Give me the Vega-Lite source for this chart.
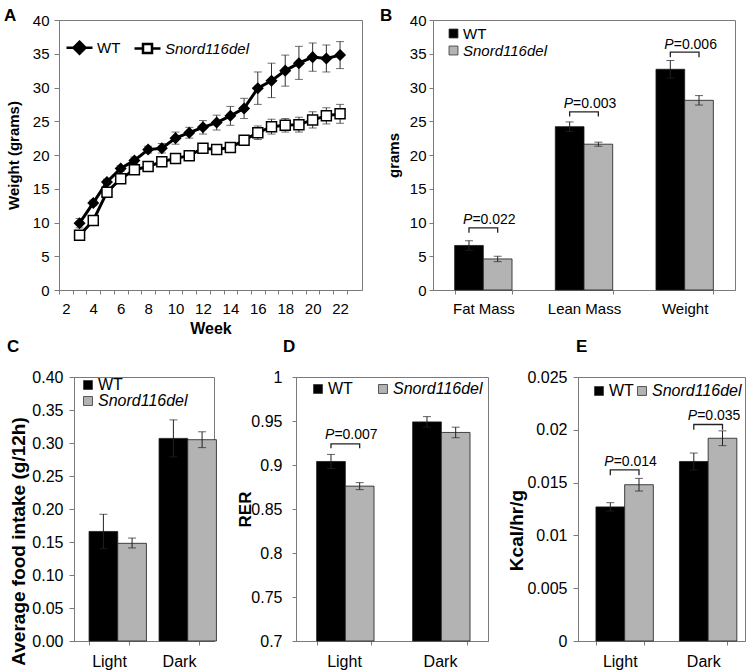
{
  "$schema": "https://vega.github.io/schema/vega-lite/v6.json",
  "background": "white",
  "padding": {"left": -14, "top": 6, "right": 0, "bottom": 0},
  "config": {
    "font": "Liberation Sans",
    "view": {"stroke": "#7a7a7a", "strokeWidth": 1},
    "axis": {"grid": false, "labelOverlap": false, "domainColor": "#7a7a7a", "tickColor": "#7a7a7a", "labelColor": "#000000", "titleColor": "#000000", "titleFontWeight": "bold", "labelFontSize": 15, "titleFontSize": 15, "tickSize": 5, "labelFont": "Liberation Sans", "titleFont": "Liberation Sans"},
    "legend": {"labelFont": "Liberation Sans", "labelColor": "#000000", "padding": 0},
    "title": {"font": "Liberation Sans", "fontSize": 17, "fontWeight": "bold", "color": "#000000", "anchor": "start", "frame": "group", "baseline": "alphabetic"}
  },
  "datasets": {
    "growth": [
      {"week": 3, "group": "WT", "mean": 9.9, "lo": 9.2, "hi": 10.6},
      {"week": 4, "group": "WT", "mean": 12.9, "lo": 12.5, "hi": 13.3},
      {"week": 5, "group": "WT", "mean": 16.0, "lo": 15.6, "hi": 16.4},
      {"week": 6, "group": "WT", "mean": 18.0, "lo": 17.6, "hi": 18.4},
      {"week": 7, "group": "WT", "mean": 19.2, "lo": 18.7, "hi": 19.7},
      {"week": 8, "group": "WT", "mean": 20.8, "lo": 20.3, "hi": 21.3},
      {"week": 9, "group": "WT", "mean": 21.0, "lo": 20.3, "hi": 21.7},
      {"week": 10, "group": "WT", "mean": 22.5, "lo": 21.6, "hi": 23.4},
      {"week": 11, "group": "WT", "mean": 23.3, "lo": 22.5, "hi": 24.1},
      {"week": 12, "group": "WT", "mean": 24.1, "lo": 23.1, "hi": 25.1},
      {"week": 13, "group": "WT", "mean": 24.8, "lo": 23.7, "hi": 25.9},
      {"week": 14, "group": "WT", "mean": 25.8, "lo": 24.4, "hi": 27.2},
      {"week": 15, "group": "WT", "mean": 26.9, "lo": 25.4, "hi": 28.4},
      {"week": 16, "group": "WT", "mean": 29.9, "lo": 27.5, "hi": 32.3},
      {"week": 17, "group": "WT", "mean": 31.0, "lo": 28.5, "hi": 33.6},
      {"week": 18, "group": "WT", "mean": 32.5, "lo": 30.2, "hi": 34.8},
      {"week": 19, "group": "WT", "mean": 33.6, "lo": 31.2, "hi": 36.1},
      {"week": 20, "group": "WT", "mean": 34.5, "lo": 32.4, "hi": 36.6},
      {"week": 21, "group": "WT", "mean": 34.3, "lo": 32.3, "hi": 36.3},
      {"week": 22, "group": "WT", "mean": 34.8, "lo": 32.8, "hi": 36.8},
      {"week": 3, "group": "Snord116del", "mean": 8.1, "lo": 7.6, "hi": 8.6},
      {"week": 4, "group": "Snord116del", "mean": 10.3, "lo": 9.9, "hi": 10.7},
      {"week": 5, "group": "Snord116del", "mean": 14.5, "lo": 14.1, "hi": 14.9},
      {"week": 6, "group": "Snord116del", "mean": 16.5, "lo": 16.1, "hi": 16.9},
      {"week": 7, "group": "Snord116del", "mean": 17.8, "lo": 17.4, "hi": 18.2},
      {"week": 8, "group": "Snord116del", "mean": 18.3, "lo": 17.9, "hi": 18.7},
      {"week": 9, "group": "Snord116del", "mean": 19.0, "lo": 18.6, "hi": 19.4},
      {"week": 10, "group": "Snord116del", "mean": 19.5, "lo": 19.1, "hi": 19.9},
      {"week": 11, "group": "Snord116del", "mean": 19.9, "lo": 19.5, "hi": 20.3},
      {"week": 12, "group": "Snord116del", "mean": 21.0, "lo": 20.5, "hi": 21.5},
      {"week": 13, "group": "Snord116del", "mean": 20.8, "lo": 20.4, "hi": 21.2},
      {"week": 14, "group": "Snord116del", "mean": 21.1, "lo": 20.7, "hi": 21.5},
      {"week": 15, "group": "Snord116del", "mean": 22.2, "lo": 21.6, "hi": 22.8},
      {"week": 16, "group": "Snord116del", "mean": 23.3, "lo": 22.3, "hi": 24.3},
      {"week": 17, "group": "Snord116del", "mean": 24.2, "lo": 23.1, "hi": 25.3},
      {"week": 18, "group": "Snord116del", "mean": 24.4, "lo": 23.4, "hi": 25.4},
      {"week": 19, "group": "Snord116del", "mean": 24.5, "lo": 23.4, "hi": 25.6},
      {"week": 20, "group": "Snord116del", "mean": 25.2, "lo": 24.0, "hi": 26.4},
      {"week": 21, "group": "Snord116del", "mean": 25.8, "lo": 24.6, "hi": 27.0},
      {"week": 22, "group": "Snord116del", "mean": 26.1, "lo": 24.7, "hi": 27.5}
    ],
    "bars": [
      {"panel": "B", "cat": "Fat Mass", "group": "WT", "mean": 6.6, "lo": 5.9, "hi": 7.3},
      {"panel": "B", "cat": "Fat Mass", "group": "Snord116del", "mean": 4.6, "lo": 4.2, "hi": 5.0},
      {"panel": "B", "cat": "Lean Mass", "group": "WT", "mean": 24.2, "lo": 23.5, "hi": 24.9},
      {"panel": "B", "cat": "Lean Mass", "group": "Snord116del", "mean": 21.6, "lo": 21.3, "hi": 21.9},
      {"panel": "B", "cat": "Weight", "group": "WT", "mean": 32.7, "lo": 31.4, "hi": 34.0},
      {"panel": "B", "cat": "Weight", "group": "Snord116del", "mean": 28.1, "lo": 27.4, "hi": 28.8},
      {"panel": "C", "cat": "Light", "group": "WT", "mean": 0.166, "lo": 0.140, "hi": 0.192},
      {"panel": "C", "cat": "Light", "group": "Snord116del", "mean": 0.148, "lo": 0.141, "hi": 0.156},
      {"panel": "C", "cat": "Dark", "group": "WT", "mean": 0.307, "lo": 0.279, "hi": 0.335},
      {"panel": "C", "cat": "Dark", "group": "Snord116del", "mean": 0.305, "lo": 0.293, "hi": 0.317},
      {"panel": "D", "cat": "Light", "group": "WT", "mean": 0.904, "lo": 0.896, "hi": 0.912},
      {"panel": "D", "cat": "Light", "group": "Snord116del", "mean": 0.876, "lo": 0.872, "hi": 0.880},
      {"panel": "D", "cat": "Dark", "group": "WT", "mean": 0.949, "lo": 0.943, "hi": 0.955},
      {"panel": "D", "cat": "Dark", "group": "Snord116del", "mean": 0.937, "lo": 0.931, "hi": 0.943},
      {"panel": "E", "cat": "Light", "group": "WT", "mean": 0.0127, "lo": 0.0123, "hi": 0.0131},
      {"panel": "E", "cat": "Light", "group": "Snord116del", "mean": 0.0148, "lo": 0.0142, "hi": 0.0154},
      {"panel": "E", "cat": "Dark", "group": "WT", "mean": 0.0170, "lo": 0.0162, "hi": 0.0178},
      {"panel": "E", "cat": "Dark", "group": "Snord116del", "mean": 0.0192, "lo": 0.0185, "hi": 0.0199}
    ],
    "brackets": [
      {"panel": "B", "id": "B1", "cat": "Fat Mass", "group": "WT", "y": 8.5, "ord": 1},
      {"panel": "B", "id": "B1", "cat": "Fat Mass", "group": "WT", "y": 9.2, "ord": 2},
      {"panel": "B", "id": "B1", "cat": "Fat Mass", "group": "Snord116del", "y": 9.2, "ord": 3},
      {"panel": "B", "id": "B1", "cat": "Fat Mass", "group": "Snord116del", "y": 8.5, "ord": 4},
      {"panel": "B", "id": "B2", "cat": "Lean Mass", "group": "WT", "y": 25.7, "ord": 1},
      {"panel": "B", "id": "B2", "cat": "Lean Mass", "group": "WT", "y": 26.4, "ord": 2},
      {"panel": "B", "id": "B2", "cat": "Lean Mass", "group": "Snord116del", "y": 26.4, "ord": 3},
      {"panel": "B", "id": "B2", "cat": "Lean Mass", "group": "Snord116del", "y": 25.7, "ord": 4},
      {"panel": "B", "id": "B3", "cat": "Weight", "group": "WT", "y": 34.5, "ord": 1},
      {"panel": "B", "id": "B3", "cat": "Weight", "group": "WT", "y": 35.25, "ord": 2},
      {"panel": "B", "id": "B3", "cat": "Weight", "group": "Snord116del", "y": 35.25, "ord": 3},
      {"panel": "B", "id": "B3", "cat": "Weight", "group": "Snord116del", "y": 34.5, "ord": 4},
      {"panel": "D", "id": "D1", "cat": "Light", "group": "WT", "y": 0.919, "ord": 1},
      {"panel": "D", "id": "D1", "cat": "Light", "group": "WT", "y": 0.924, "ord": 2},
      {"panel": "D", "id": "D1", "cat": "Light", "group": "Snord116del", "y": 0.924, "ord": 3},
      {"panel": "D", "id": "D1", "cat": "Light", "group": "Snord116del", "y": 0.919, "ord": 4},
      {"panel": "E", "id": "E1", "cat": "Light", "group": "WT", "y": 0.0157, "ord": 1},
      {"panel": "E", "id": "E1", "cat": "Light", "group": "WT", "y": 0.0162, "ord": 2},
      {"panel": "E", "id": "E1", "cat": "Light", "group": "Snord116del", "y": 0.0162, "ord": 3},
      {"panel": "E", "id": "E1", "cat": "Light", "group": "Snord116del", "y": 0.0157, "ord": 4},
      {"panel": "E", "id": "E2", "cat": "Dark", "group": "WT", "y": 0.0200, "ord": 1},
      {"panel": "E", "id": "E2", "cat": "Dark", "group": "WT", "y": 0.0205, "ord": 2},
      {"panel": "E", "id": "E2", "cat": "Dark", "group": "Snord116del", "y": 0.0205, "ord": 3},
      {"panel": "E", "id": "E2", "cat": "Dark", "group": "Snord116del", "y": 0.0200, "ord": 4}
    ],
    "ptext": [
      {"panel": "B", "cat": "Fat Mass", "group": "WT", "y": 9.75, "p": "=0.022"},
      {"panel": "B", "cat": "Lean Mass", "group": "WT", "y": 27.0, "p": "=0.003"},
      {"panel": "B", "cat": "Weight", "group": "WT", "y": 35.65, "p": "=0.006"},
      {"panel": "D", "cat": "Light", "group": "WT", "y": 0.929, "p": "=0.007"},
      {"panel": "E", "cat": "Light", "group": "WT", "y": 0.01657, "p": "=0.014"},
      {"panel": "E", "cat": "Dark", "group": "WT", "y": 0.0209, "p": "=0.035"}
    ]
  },
  "resolve": {"scale": {"fill": "independent", "shape": "independent"}, "legend": {"fill": "independent", "shape": "independent"}},
  "columns": 1,
  "align": "none",
  "spacing": 0,
  "concat": [
    {
      "spacing": 16,
      "resolve": {"scale": {"fill": "independent", "shape": "independent"}, "legend": {"fill": "independent", "shape": "independent"}},
      "hconcat": [
        {"width": 1, "height": 1, "view": {"stroke": null}, "data": {"values": []}, "mark": "point"},
        {
          "width": 303, "height": 270,
          "title": {"text": "A", "dx": -55, "offset": -11.5},
          "data": {"name": "growth"},
          "encoding": {
            "x": {"field": "week", "type": "quantitative", "title": "Week",
              "scale": {"domain": [1.5, 23.6], "nice": false, "zero": false},
              "axis": {"values": [2,3,4,5,6,7,8,9,10,11,12,13,14,15,16,17,18,19,20,21,22,23], "labelExpr": "datum.value % 2 == 0 && datum.value <= 22 ? datum.label : ''", "tickOffset": -6.86, "labelOffset": 6.86, "tickSize": 4, "labelPadding": 7, "titleFontSize": 16, "titlePadding": 4}}
          },
          "layer": [
            {"mark": {"type": "rule", "color": "#333333", "strokeWidth": 1},
             "encoding": {"y": {"field": "lo", "type": "quantitative", "title": "Weight (grams)", "scale": {"domain": [0, 40], "nice": false},
                "axis": {"values": [0,5,10,15,20,25,30,35,40], "tickSize": 5, "labelPadding": 5, "minExtent": 29, "maxExtent": 29, "titlePadding": 9}},
              "y2": {"field": "hi"}}},
            {"mark": {"type": "tick", "orient": "horizontal", "size": 8, "thickness": 1, "color": "#333333"},
             "encoding": {"y": {"field": "lo", "type": "quantitative", "title": "Weight (grams)", "axis": {"values": [0,5,10,15,20,25,30,35,40], "tickSize": 5, "labelPadding": 5, "minExtent": 29, "maxExtent": 29, "titlePadding": 9}}}},
            {"mark": {"type": "tick", "orient": "horizontal", "size": 8, "thickness": 1, "color": "#333333"},
             "encoding": {"y": {"field": "hi", "type": "quantitative", "title": "Weight (grams)", "axis": {"values": [0,5,10,15,20,25,30,35,40], "tickSize": 5, "labelPadding": 5, "minExtent": 29, "maxExtent": 29, "titlePadding": 9}}}},
            {"mark": {"type": "line", "color": "#000000", "strokeWidth": 3},
             "encoding": {"y": {"field": "mean", "type": "quantitative", "title": "Weight (grams)", "axis": {"values": [0,5,10,15,20,25,30,35,40], "tickSize": 5, "labelPadding": 5, "minExtent": 29, "maxExtent": 29, "titlePadding": 9}}, "detail": {"field": "group"}}},
            {"transform": [{"filter": "datum.group == 'WT'"}],
             "mark": {"type": "point", "shape": "diamond", "filled": true, "fill": "#000000", "stroke": "#000000", "size": 85, "opacity": 1},
             "encoding": {"y": {"field": "mean", "type": "quantitative", "title": "Weight (grams)", "axis": {"values": [0,5,10,15,20,25,30,35,40], "tickSize": 5, "labelPadding": 5, "minExtent": 29, "maxExtent": 29, "titlePadding": 9}}}},
            {"transform": [{"filter": "datum.group != 'WT'"}],
             "mark": {"type": "point", "shape": "square", "filled": true, "fill": "#ffffff", "stroke": "#000000", "strokeWidth": 1.5, "size": 100, "opacity": 1},
             "encoding": {"y": {"field": "mean", "type": "quantitative", "title": "Weight (grams)", "axis": {"values": [0,5,10,15,20,25,30,35,40], "tickSize": 5, "labelPadding": 5, "minExtent": 29, "maxExtent": 29, "titlePadding": 9}}}},
            {"mark": {"type": "point", "filled": true, "opacity": 0},
             "encoding": {
               "y": {"field": "mean", "type": "quantitative", "title": "Weight (grams)", "axis": {"values": [0,5,10,15,20,25,30,35,40], "tickSize": 5, "labelPadding": 5, "minExtent": 29, "maxExtent": 29, "titlePadding": 9}},
               "shape": {"field": "group", "type": "nominal", "scale": {"domain": ["WT", "Snord116del"], "range": ["M-1.3,0H1.3M0,-0.6L0.6,0L0,0.6L-0.6,0Z", "M-1.3,0H-0.45M0.45,0H1.3M-0.45,-0.45H0.45V0.45H-0.45Z"]},
                 "legend": {"title": null, "orient": "none", "legendX": 9, "legendY": 16, "direction": "horizontal", "symbolSize": 400, "symbolStrokeColor": "#000000", "symbolStrokeWidth": 2.5, "symbolOpacity": 1, "labelFontSize": 15, "labelOffset": 6, "columnPadding": 8,
                   "encode": {"symbols": {"update": {"opacity": {"value": 1}, "stroke": {"value": "#000000"}}}, "labels": {"update": {"fontStyle": {"signal": "datum.label == 'WT' ? 'normal' : 'italic'"}}}}}},
               "fill": {"field": "group", "type": "nominal", "scale": {"domain": ["WT", "Snord116del"], "range": ["#000000", "#ffffff"]},
                 "legend": {"title": null, "orient": "none", "legendX": 9, "legendY": 16, "direction": "horizontal", "symbolSize": 400, "symbolStrokeColor": "#000000", "symbolStrokeWidth": 2.5, "symbolOpacity": 1, "labelFontSize": 15, "labelOffset": 6, "columnPadding": 8,
                   "encode": {"symbols": {"update": {"opacity": {"value": 1}, "stroke": {"value": "#000000"}}}, "labels": {"update": {"fontStyle": {"signal": "datum.label == 'WT' ? 'normal' : 'italic'"}}}}}}
             }}
          ]
        },
        {
          "width": 302, "height": 270,
          "title": {"text": "B", "dx": -53, "offset": -11.5},
          "encoding": {
            "x": {"field": "cat", "type": "nominal", "title": null,
              "scale": {"domain": ["Fat Mass", "Lean Mass", "Weight"], "paddingInner": 0.43, "paddingOuter": 0.215},
              "axis": {"labelAngle": 0, "tickBand": "extent", "tickSize": 4, "labelPadding": 7}},
            "xOffset": {"field": "group", "type": "nominal", "scale": {"domain": ["WT", "Snord116del"], "paddingInner": 0, "paddingOuter": 0}}
          },
          "layer": [
            {"data": {"name": "bars"}, "transform": [{"filter": "datum.panel == 'B'"}],
             "mark": {"type": "bar", "stroke": "#1a1a1a", "strokeWidth": 0.8},
             "encoding": {
               "y": {"field": "mean", "type": "quantitative", "title": "grams", "scale": {"domain": [0, 40], "nice": false},
                 "axis": {"values": [0,5,10,15,20,25,30,35,40], "tickSize": 4, "labelPadding": 3, "minExtent": 23, "maxExtent": 23, "titlePadding": 9}},
               "fill": {"field": "group", "type": "nominal", "scale": {"domain": ["WT", "Snord116del"], "range": ["#000000", "#b3b3b3"]},
                 "legend": {"title": null, "orient": "none", "legendX": 13, "legendY": 6, "direction": "vertical", "symbolType": "square", "symbolSize": 80, "symbolStrokeColor": "#333333", "symbolStrokeWidth": 0.8, "labelFontSize": 15, "labelOffset": 2, "rowPadding": 1,
                   "encode": {"labels": {"update": {"fontStyle": {"signal": "datum.label == 'WT' ? 'normal' : 'italic'"}}}}}}
             }},
            {"data": {"name": "bars"}, "transform": [{"filter": "datum.panel == 'B'"}],
             "mark": {"type": "rule", "color": "#222222", "strokeWidth": 1},
             "encoding": {"y": {"field": "lo", "type": "quantitative", "title": "grams", "axis": {"values": [0,5,10,15,20,25,30,35,40], "tickSize": 4, "labelPadding": 3, "minExtent": 23, "maxExtent": 23, "titlePadding": 9}}, "y2": {"field": "hi"}}},
            {"data": {"name": "bars"}, "transform": [{"filter": "datum.panel == 'B'"}],
             "mark": {"type": "tick", "orient": "horizontal", "size": 8, "thickness": 1, "color": "#222222"},
             "encoding": {"y": {"field": "lo", "type": "quantitative", "title": "grams", "axis": {"values": [0,5,10,15,20,25,30,35,40], "tickSize": 4, "labelPadding": 3, "minExtent": 23, "maxExtent": 23, "titlePadding": 9}}}},
            {"data": {"name": "bars"}, "transform": [{"filter": "datum.panel == 'B'"}],
             "mark": {"type": "tick", "orient": "horizontal", "size": 8, "thickness": 1, "color": "#222222"},
             "encoding": {"y": {"field": "hi", "type": "quantitative", "title": "grams", "axis": {"values": [0,5,10,15,20,25,30,35,40], "tickSize": 4, "labelPadding": 3, "minExtent": 23, "maxExtent": 23, "titlePadding": 9}}}},
            {"data": {"name": "brackets"}, "transform": [{"filter": "datum.panel == 'B'"}],
             "mark": {"type": "line", "color": "#222222", "strokeWidth": 1.3},
             "encoding": {"y": {"field": "y", "type": "quantitative", "title": "grams", "axis": {"values": [0,5,10,15,20,25,30,35,40], "tickSize": 4, "labelPadding": 3, "minExtent": 23, "maxExtent": 23, "titlePadding": 9}}, "order": {"field": "ord"}, "detail": {"field": "id"}}},
            {"data": {"name": "ptext"}, "transform": [{"filter": "datum.panel == 'B'"}],
             "mark": {"type": "text", "text": "P", "fontStyle": "italic", "fontSize": 14, "align": "left", "baseline": "alphabetic", "dx": -6, "color": "#000000"},
             "encoding": {"y": {"field": "y", "type": "quantitative", "title": "grams", "axis": {"values": [0,5,10,15,20,25,30,35,40], "tickSize": 4, "labelPadding": 3, "minExtent": 23, "maxExtent": 23, "titlePadding": 9}}}},
            {"data": {"name": "ptext"}, "transform": [{"filter": "datum.panel == 'B'"}],
             "mark": {"type": "text", "fontSize": 14, "align": "left", "baseline": "alphabetic", "dx": 3.4, "color": "#000000"},
             "encoding": {"y": {"field": "y", "type": "quantitative", "title": "grams", "axis": {"values": [0,5,10,15,20,25,30,35,40], "tickSize": 4, "labelPadding": 3, "minExtent": 23, "maxExtent": 23, "titlePadding": 9}}, "text": {"field": "p"}}}
          ]
        }
      ]
    },
    {
      "spacing": 17,
      "resolve": {"scale": {"fill": "independent", "shape": "independent"}, "legend": {"fill": "independent", "shape": "independent"}},
      "hconcat": [
        {"width": 3, "height": 1, "view": {"stroke": null}, "data": {"values": []}, "mark": "point"},
        {
          "width": 140, "height": 264,
          "title": {"text": "C", "dx": -67, "offset": 13},
          "encoding": {
            "x": {"field": "cat", "type": "nominal", "title": null,
              "scale": {"domain": ["Light", "Dark"], "paddingInner": 0.43, "paddingOuter": 0.215},
              "axis": {"labelAngle": 0, "tickBand": "extent", "tickSize": 4, "labelPadding": 8, "labelFontSize": 16}},
            "xOffset": {"field": "group", "type": "nominal", "scale": {"domain": ["WT", "Snord116del"], "paddingInner": 0, "paddingOuter": 0}}
          },
          "layer": [
            {"data": {"name": "bars"}, "transform": [{"filter": "datum.panel == 'C'"}],
             "mark": {"type": "bar", "stroke": "#1a1a1a", "strokeWidth": 0.8},
             "encoding": {
               "y": {"field": "mean", "type": "quantitative", "title": "Average food intake (g/12h)", "scale": {"domain": [0, 0.4], "nice": false},
                 "axis": {"values": [0,0.05,0.1,0.15,0.2,0.25,0.3,0.35,0.4], "format": ".2f", "labelFontSize": 16, "titleFontSize": 19, "titleY": 164, "tickSize": 5, "labelPadding": 6, "minExtent": 45, "maxExtent": 45, "titlePadding": 1}},
               "fill": {"field": "group", "type": "nominal", "scale": {"domain": ["WT", "Snord116del"], "range": ["#000000", "#b3b3b3"]},
                 "legend": {"title": null, "orient": "none", "legendX": 6, "legendY": 0, "direction": "vertical", "symbolType": "square", "symbolSize": 80, "symbolStrokeColor": "#333333", "symbolStrokeWidth": 0.8, "labelFontSize": 16, "labelOffset": 2, "rowPadding": 0,
                   "encode": {"labels": {"update": {"fontStyle": {"signal": "datum.label == 'WT' ? 'normal' : 'italic'"}}}}}}
             }},
            {"data": {"name": "bars"}, "transform": [{"filter": "datum.panel == 'C'"}],
             "mark": {"type": "rule", "color": "#222222", "strokeWidth": 1},
             "encoding": {"y": {"field": "lo", "type": "quantitative", "title": "Average food intake (g/12h)", "axis": {"values": [0,0.05,0.1,0.15,0.2,0.25,0.3,0.35,0.4], "format": ".2f", "labelFontSize": 16, "titleFontSize": 19, "titleY": 164, "tickSize": 5, "labelPadding": 6, "minExtent": 45, "maxExtent": 45, "titlePadding": 1}}, "y2": {"field": "hi"}}},
            {"data": {"name": "bars"}, "transform": [{"filter": "datum.panel == 'C'"}],
             "mark": {"type": "tick", "orient": "horizontal", "size": 8, "thickness": 1, "color": "#222222"},
             "encoding": {"y": {"field": "lo", "type": "quantitative", "title": "Average food intake (g/12h)", "axis": {"values": [0,0.05,0.1,0.15,0.2,0.25,0.3,0.35,0.4], "format": ".2f", "labelFontSize": 16, "titleFontSize": 19, "titleY": 164, "tickSize": 5, "labelPadding": 6, "minExtent": 45, "maxExtent": 45, "titlePadding": 1}}}},
            {"data": {"name": "bars"}, "transform": [{"filter": "datum.panel == 'C'"}],
             "mark": {"type": "tick", "orient": "horizontal", "size": 8, "thickness": 1, "color": "#222222"},
             "encoding": {"y": {"field": "hi", "type": "quantitative", "title": "Average food intake (g/12h)", "axis": {"values": [0,0.05,0.1,0.15,0.2,0.25,0.3,0.35,0.4], "format": ".2f", "labelFontSize": 16, "titleFontSize": 19, "titleY": 164, "tickSize": 5, "labelPadding": 6, "minExtent": 45, "maxExtent": 45, "titlePadding": 1}}}}
          ]
        },
        {
          "width": 192, "height": 264,
          "title": {"text": "D", "dx": -13, "offset": 13},
          "encoding": {
            "x": {"field": "cat", "type": "nominal", "title": null,
              "scale": {"domain": ["Light", "Dark"], "paddingInner": 0.43, "paddingOuter": 0.215},
              "axis": {"labelAngle": 0, "tickBand": "extent", "tickSize": 4, "labelPadding": 8, "labelFontSize": 16}},
            "xOffset": {"field": "group", "type": "nominal", "scale": {"domain": ["WT", "Snord116del"], "paddingInner": 0, "paddingOuter": 0}}
          },
          "layer": [
            {"data": {"name": "bars"}, "transform": [{"filter": "datum.panel == 'D'"}],
             "mark": {"type": "bar", "stroke": "#1a1a1a", "strokeWidth": 0.8},
             "encoding": {
               "y": {"field": "mean", "type": "quantitative", "title": "RER", "scale": {"domain": [0.7, 1], "nice": false, "zero": false},
                 "axis": {"values": [0.7,0.75,0.8,0.85,0.9,0.95,1], "format": "~g", "labelFontSize": 16, "titleFontSize": 17, "tickSize": 4, "labelPadding": 10, "minExtent": 42, "maxExtent": 42, "titlePadding": 0}},
               "y2": {"datum": 0.7},
               "fill": {"field": "group", "type": "nominal", "scale": {"domain": ["WT", "Snord116del"], "range": ["#000000", "#b3b3b3"]},
                 "legend": {"title": null, "orient": "none", "legendX": 14, "legendY": 4, "direction": "horizontal", "symbolType": "square", "symbolSize": 80, "symbolStrokeColor": "#333333", "symbolStrokeWidth": 0.8, "labelFontSize": 16, "labelOffset": 2, "columnPadding": 22,
                   "encode": {"labels": {"update": {"fontStyle": {"signal": "datum.label == 'WT' ? 'normal' : 'italic'"}}}}}}
             }},
            {"data": {"name": "bars"}, "transform": [{"filter": "datum.panel == 'D'"}],
             "mark": {"type": "rule", "color": "#222222", "strokeWidth": 1},
             "encoding": {"y": {"field": "lo", "type": "quantitative", "title": "RER", "axis": {"values": [0.7,0.75,0.8,0.85,0.9,0.95,1], "format": "~g", "labelFontSize": 16, "titleFontSize": 17, "tickSize": 4, "labelPadding": 10, "minExtent": 42, "maxExtent": 42, "titlePadding": 0}}, "y2": {"field": "hi"}}},
            {"data": {"name": "bars"}, "transform": [{"filter": "datum.panel == 'D'"}],
             "mark": {"type": "tick", "orient": "horizontal", "size": 8, "thickness": 1, "color": "#222222"},
             "encoding": {"y": {"field": "lo", "type": "quantitative", "title": "RER", "axis": {"values": [0.7,0.75,0.8,0.85,0.9,0.95,1], "format": "~g", "labelFontSize": 16, "titleFontSize": 17, "tickSize": 4, "labelPadding": 10, "minExtent": 42, "maxExtent": 42, "titlePadding": 0}}}},
            {"data": {"name": "bars"}, "transform": [{"filter": "datum.panel == 'D'"}],
             "mark": {"type": "tick", "orient": "horizontal", "size": 8, "thickness": 1, "color": "#222222"},
             "encoding": {"y": {"field": "hi", "type": "quantitative", "title": "RER", "axis": {"values": [0.7,0.75,0.8,0.85,0.9,0.95,1], "format": "~g", "labelFontSize": 16, "titleFontSize": 17, "tickSize": 4, "labelPadding": 10, "minExtent": 42, "maxExtent": 42, "titlePadding": 0}}}},
            {"data": {"name": "brackets"}, "transform": [{"filter": "datum.panel == 'D'"}],
             "mark": {"type": "line", "color": "#222222", "strokeWidth": 1.3},
             "encoding": {"y": {"field": "y", "type": "quantitative", "title": "RER", "axis": {"values": [0.7,0.75,0.8,0.85,0.9,0.95,1], "format": "~g", "labelFontSize": 16, "titleFontSize": 17, "tickSize": 4, "labelPadding": 10, "minExtent": 42, "maxExtent": 42, "titlePadding": 0}}, "order": {"field": "ord"}, "detail": {"field": "id"}}},
            {"data": {"name": "ptext"}, "transform": [{"filter": "datum.panel == 'D'"}],
             "mark": {"type": "text", "text": "P", "fontStyle": "italic", "fontSize": 14, "align": "left", "baseline": "alphabetic", "dx": -6, "color": "#000000"},
             "encoding": {"y": {"field": "y", "type": "quantitative", "title": "RER", "axis": {"values": [0.7,0.75,0.8,0.85,0.9,0.95,1], "format": "~g", "labelFontSize": 16, "titleFontSize": 17, "tickSize": 4, "labelPadding": 10, "minExtent": 42, "maxExtent": 42, "titlePadding": 0}}}},
            {"data": {"name": "ptext"}, "transform": [{"filter": "datum.panel == 'D'"}],
             "mark": {"type": "text", "fontSize": 14, "align": "left", "baseline": "alphabetic", "dx": 3.4, "color": "#000000"},
             "encoding": {"y": {"field": "y", "type": "quantitative", "title": "RER", "axis": {"values": [0.7,0.75,0.8,0.85,0.9,0.95,1], "format": "~g", "labelFontSize": 16, "titleFontSize": 17, "tickSize": 4, "labelPadding": 10, "minExtent": 42, "maxExtent": 42, "titlePadding": 0}}, "text": {"field": "p"}}}
          ]
        },
        {
          "width": 167, "height": 264,
          "title": {"text": "E", "dx": -2, "offset": 13},
          "encoding": {
            "x": {"field": "cat", "type": "nominal", "title": null,
              "scale": {"domain": ["Light", "Dark"], "paddingInner": 0.43, "paddingOuter": 0.215},
              "axis": {"labelAngle": 0, "tickBand": "extent", "tickSize": 4, "labelPadding": 8, "labelFontSize": 16}},
            "xOffset": {"field": "group", "type": "nominal", "scale": {"domain": ["WT", "Snord116del"], "paddingInner": 0, "paddingOuter": 0}}
          },
          "layer": [
            {"data": {"name": "bars"}, "transform": [{"filter": "datum.panel == 'E'"}],
             "mark": {"type": "bar", "stroke": "#1a1a1a", "strokeWidth": 0.8},
             "encoding": {
               "y": {"field": "mean", "type": "quantitative", "title": "Kcal/hr/g", "scale": {"domain": [0, 0.025], "nice": false},
                 "axis": {"values": [0,0.005,0.01,0.015,0.02,0.025], "format": "~g", "labelFontSize": 16, "titleFontSize": 19, "titleY": 153, "tickSize": 5, "labelPadding": 6, "minExtent": 52, "maxExtent": 52, "titlePadding": 0}},
               "fill": {"field": "group", "type": "nominal", "scale": {"domain": ["WT", "Snord116del"], "range": ["#000000", "#b3b3b3"]},
                 "legend": {"title": null, "orient": "none", "legendX": 13, "legendY": 6, "direction": "horizontal", "symbolType": "square", "symbolSize": 80, "symbolStrokeColor": "#333333", "symbolStrokeWidth": 0.8, "labelFontSize": 16, "labelOffset": 2, "columnPadding": 0,
                   "encode": {"labels": {"update": {"fontStyle": {"signal": "datum.label == 'WT' ? 'normal' : 'italic'"}}}}}}
             }},
            {"data": {"name": "bars"}, "transform": [{"filter": "datum.panel == 'E'"}],
             "mark": {"type": "rule", "color": "#222222", "strokeWidth": 1},
             "encoding": {"y": {"field": "lo", "type": "quantitative", "title": "Kcal/hr/g", "axis": {"values": [0,0.005,0.01,0.015,0.02,0.025], "format": "~g", "labelFontSize": 16, "titleFontSize": 19, "titleY": 153, "tickSize": 5, "labelPadding": 6, "minExtent": 52, "maxExtent": 52, "titlePadding": 0}}, "y2": {"field": "hi"}}},
            {"data": {"name": "bars"}, "transform": [{"filter": "datum.panel == 'E'"}],
             "mark": {"type": "tick", "orient": "horizontal", "size": 8, "thickness": 1, "color": "#222222"},
             "encoding": {"y": {"field": "lo", "type": "quantitative", "title": "Kcal/hr/g", "axis": {"values": [0,0.005,0.01,0.015,0.02,0.025], "format": "~g", "labelFontSize": 16, "titleFontSize": 19, "titleY": 153, "tickSize": 5, "labelPadding": 6, "minExtent": 52, "maxExtent": 52, "titlePadding": 0}}}},
            {"data": {"name": "bars"}, "transform": [{"filter": "datum.panel == 'E'"}],
             "mark": {"type": "tick", "orient": "horizontal", "size": 8, "thickness": 1, "color": "#222222"},
             "encoding": {"y": {"field": "hi", "type": "quantitative", "title": "Kcal/hr/g", "axis": {"values": [0,0.005,0.01,0.015,0.02,0.025], "format": "~g", "labelFontSize": 16, "titleFontSize": 19, "titleY": 153, "tickSize": 5, "labelPadding": 6, "minExtent": 52, "maxExtent": 52, "titlePadding": 0}}}},
            {"data": {"name": "brackets"}, "transform": [{"filter": "datum.panel == 'E'"}],
             "mark": {"type": "line", "color": "#222222", "strokeWidth": 1.3},
             "encoding": {"y": {"field": "y", "type": "quantitative", "title": "Kcal/hr/g", "axis": {"values": [0,0.005,0.01,0.015,0.02,0.025], "format": "~g", "labelFontSize": 16, "titleFontSize": 19, "titleY": 153, "tickSize": 5, "labelPadding": 6, "minExtent": 52, "maxExtent": 52, "titlePadding": 0}}, "order": {"field": "ord"}, "detail": {"field": "id"}}},
            {"data": {"name": "ptext"}, "transform": [{"filter": "datum.panel == 'E'"}],
             "mark": {"type": "text", "text": "P", "fontStyle": "italic", "fontSize": 14, "align": "left", "baseline": "alphabetic", "dx": -6, "color": "#000000"},
             "encoding": {"y": {"field": "y", "type": "quantitative", "title": "Kcal/hr/g", "axis": {"values": [0,0.005,0.01,0.015,0.02,0.025], "format": "~g", "labelFontSize": 16, "titleFontSize": 19, "titleY": 153, "tickSize": 5, "labelPadding": 6, "minExtent": 52, "maxExtent": 52, "titlePadding": 0}}}},
            {"data": {"name": "ptext"}, "transform": [{"filter": "datum.panel == 'E'"}],
             "mark": {"type": "text", "fontSize": 14, "align": "left", "baseline": "alphabetic", "dx": 3.4, "color": "#000000"},
             "encoding": {"y": {"field": "y", "type": "quantitative", "title": "Kcal/hr/g", "axis": {"values": [0,0.005,0.01,0.015,0.02,0.025], "format": "~g", "labelFontSize": 16, "titleFontSize": 19, "titleY": 153, "tickSize": 5, "labelPadding": 6, "minExtent": 52, "maxExtent": 52, "titlePadding": 0}}, "text": {"field": "p"}}}
          ]
        }
      ]
    }
  ]
}
